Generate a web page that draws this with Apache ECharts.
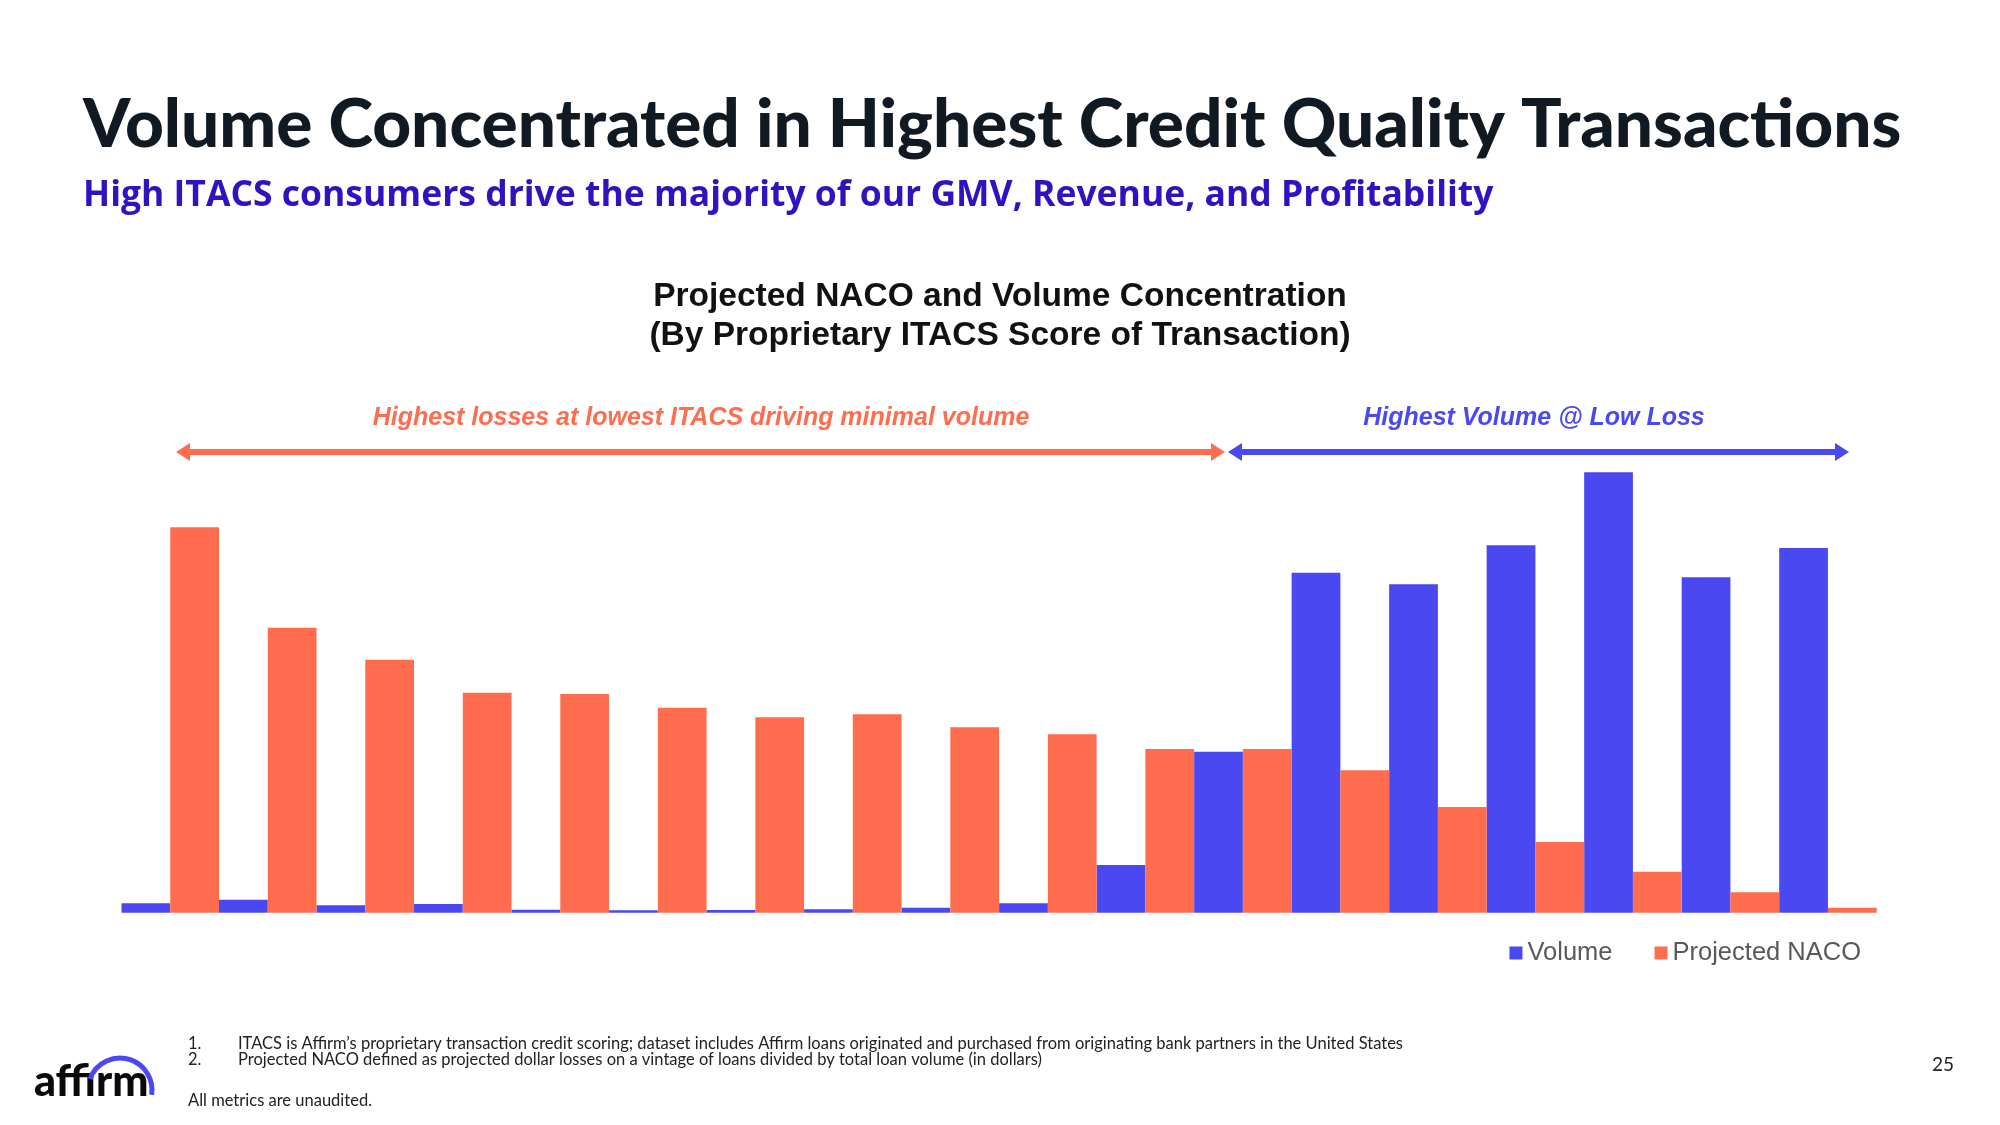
<!DOCTYPE html>
<html>
<head>
<meta charset="utf-8">
<script src="https://cdn.jsdelivr.net/npm/echarts@6/dist/echarts.min.js"></script>
<style>
html,body{margin:0;padding:0;background:#fff;}
#chart{width:2000px;height:1125px;}
</style>
</head>
<body>
<div id="chart"></div>
<script>
// ITACS score buckets (lowest -> highest), unlabeled in the original
const categories = ['1','2','3','4','5','6','7','8','9','10','11','12','13','14','15','16','17','18'];
// Relative bar heights
const volumeValues = [9.4, 13, 7.4, 8.7, 3, 2.4, 2.7, 3.4, 5, 9.4, 47.7, 161, 340, 328.4, 367.4, 440.4, 335.4, 364.7];
const nacoValues   = [385.4, 285, 253, 220, 218.7, 205, 195.4, 198.4, 185.4, 178.4, 163.7, 163.7, 142.4, 105.7, 70.7, 41, 20.4, 5];
const seriesNames = ['Volume', 'Projected NACO'];

const BLUE = '#4a48f0';
const ORANGE = '#ff6c4e';
const SANS = 'Lato, "Open Sans", sans-serif';
const ARIAL = '"Liberation Sans", Arial, sans-serif';

const chart = echarts.init(document.getElementById('chart'));

function arrow(x1, x2, y, color) {
  const h = 9, len = 14;
  return [
    { type: 'line', shape: { x1: x1 + 6, y1: y, x2: x2 - 6, y2: y }, style: { stroke: color, lineWidth: 6 } },
    { type: 'polygon', shape: { points: [[x1, y], [x1 + len, y - h], [x1 + len, y + h]] }, style: { fill: color } },
    { type: 'polygon', shape: { points: [[x2, y], [x2 - len, y - h], [x2 - len, y + h]] }, style: { fill: color } }
  ];
}

const option = {
  backgroundColor: '#ffffff',
  animation: false,
  title: [
    {
      text: 'Volume Concentrated in Highest Credit Quality Transactions',
      left: 83, top: 91, padding: 0,
      textStyle: { fontFamily: SANS, fontSize: 67.5, fontWeight: 900, color: '#111a22', lineHeight: 68 }
    },
    {
      text: 'High ITACS consumers drive the majority of our GMV, Revenue, and Profitability',
      left: 83, top: 175, padding: 0,
      textStyle: { fontFamily: '"Open Sans", Lato, sans-serif', fontSize: 35.5, fontWeight: 'bold', color: '#3012c0', lineHeight: 42 }
    },
    {
      text: 'Projected NACO and Volume Concentration\n(By Proprietary ITACS Score of Transaction)',
      left: 'center', top: 278, padding: 0,
      textStyle: { fontFamily: ARIAL, fontSize: 33.5, fontWeight: 'bold', color: '#111111', lineHeight: 38.5, align: 'center' }
    }
  ],
  legend: {
    data: seriesNames,
    right: 139, top: 940, padding: 0,
    icon: 'rect', itemWidth: 13, itemHeight: 13, itemGap: 42,
    textStyle: { fontFamily: ARIAL, fontSize: 25.5, color: '#595959' }
  },
  grid: { left: 121.5, right: 123.3, top: 462.7, bottom: 212.3 },
  xAxis: {
    type: 'category', data: categories,
    axisLine: { show: false }, axisTick: { show: false }, axisLabel: { show: false }, splitLine: { show: false }
  },
  yAxis: {
    type: 'value', min: 0, max: 450,
    show: false, splitLine: { show: false }
  },
  series: [
    { name: seriesNames[0], type: 'bar', data: volumeValues, itemStyle: { color: BLUE }, barGap: '0%', barCategoryGap: '0%' },
    { name: seriesNames[1], type: 'bar', data: nacoValues, itemStyle: { color: ORANGE }, barGap: '0%', barCategoryGap: '0%' }
  ],
  graphic: [
    { type: 'text', style: { text: 'Highest losses at lowest ITACS driving minimal volume', x: 701, y: 418, textAlign: 'center', textVerticalAlign: 'middle', fontFamily: ARIAL, fontSize: 25, fontWeight: 'bold', fontStyle: 'italic', fill: ORANGE } },
    { type: 'text', style: { text: 'Highest Volume @ Low Loss', x: 1534, y: 418, textAlign: 'center', textVerticalAlign: 'middle', fontFamily: ARIAL, fontSize: 25, fontWeight: 'bold', fontStyle: 'italic', fill: BLUE } },
    ...arrow(176, 1225, 452, ORANGE),
    ...arrow(1228, 1849, 452, BLUE),
    { type: 'text', style: { text: '1.', x: 188, y: 1044, textVerticalAlign: 'middle', fontFamily: SANS, fontSize: 16.5, fill: '#222' } },
    { type: 'text', style: { text: 'ITACS is Affirm\u2019s proprietary transaction credit scoring; dataset includes Affirm loans originated and purchased from originating bank partners in the United States', x: 238, y: 1044, textVerticalAlign: 'middle', fontFamily: SANS, fontSize: 16.5, fill: '#222' } },
    { type: 'text', style: { text: '2.', x: 188, y: 1060, textVerticalAlign: 'middle', fontFamily: SANS, fontSize: 16.5, fill: '#222' } },
    { type: 'text', style: { text: 'Projected NACO defined as projected dollar losses on a vintage of loans divided by total loan volume (in dollars)', x: 238, y: 1060, textVerticalAlign: 'middle', fontFamily: SANS, fontSize: 16.5, fill: '#222' } },
    { type: 'text', style: { text: 'All metrics are unaudited.', x: 188, y: 1101, textVerticalAlign: 'middle', fontFamily: SANS, fontSize: 16.5, fill: '#222' } },
    { type: 'text', style: { text: '25', x: 1943, y: 1065, textAlign: 'center', textVerticalAlign: 'middle', fontFamily: SANS, fontSize: 19, fill: '#222' } },
    { type: 'text', style: { text: 'affirm', x: 34, y: 1104, textVerticalAlign: 'bottom', fontFamily: SANS, fontSize: 43, fontWeight: 900, fill: '#0a0a0a' } },
    { type: 'arc', shape: { cx: 120, cy: 1090, r: 32, startAngle: Math.PI + 0.35, endAngle: 2 * Math.PI + 0.15, clockwise: true }, style: { stroke: BLUE, lineWidth: 5, fill: 'none' } }
  ]
};
chart.setOption(option);
</script>
</body>
</html>
